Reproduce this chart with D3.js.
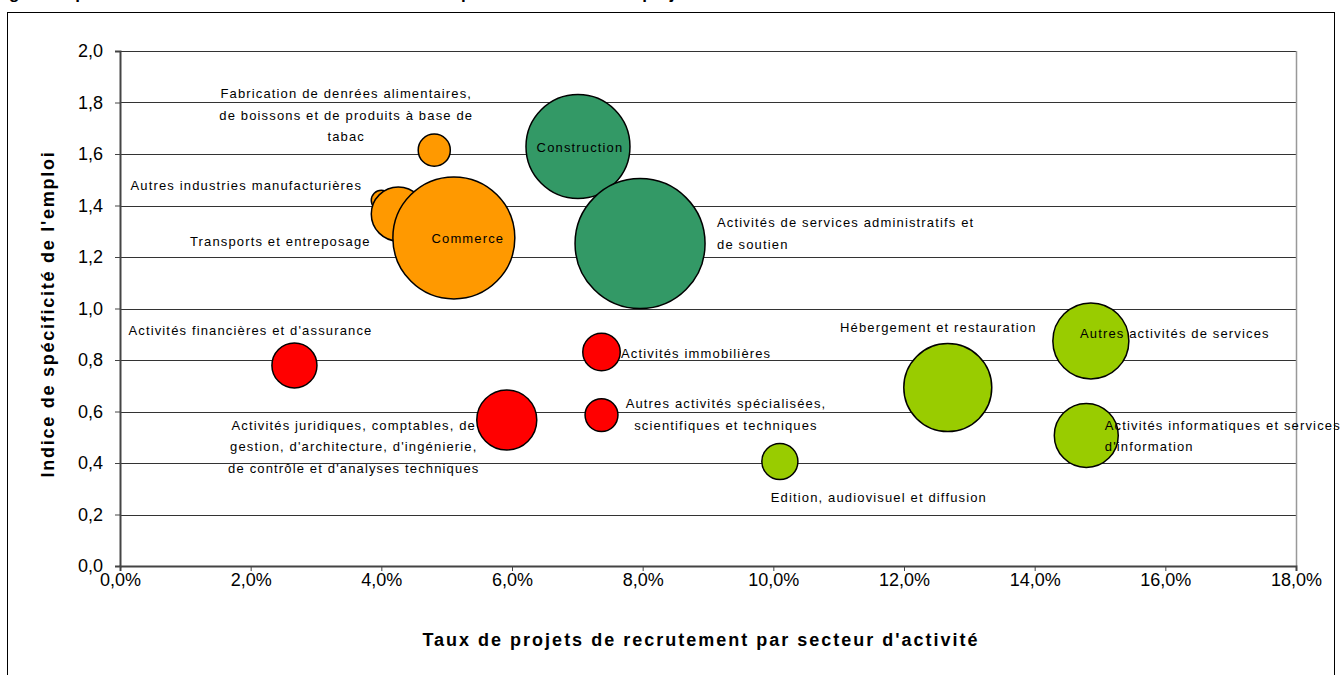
<!DOCTYPE html>
<html>
<head>
<meta charset="utf-8">
<script src="https://cdn.jsdelivr.net/npm/d3@7"></script>
<style>
  body { margin: 0; background: #fff; }
  svg { display: block; font-family: "Liberation Sans", Arial, sans-serif; }
</style>
</head>
<body>
<svg id="chart" width="1343" height="675"></svg>
<script>
// secteurs, taux de projets (x), indice de specificite (y), poids (taille bulle)
const sectors = [
  "Autres industries manufacturières",
  "Transports et entreposage",
  "Commerce",
  "Fabrication de denrées alimentaires, de boissons et de produits à base de tabac",
  "Construction",
  "Activités de services administratifs et de soutien",
  "Activités financières et d'assurance",
  "Activités juridiques, comptables, de gestion, d'architecture, d'ingénierie, de contrôle et d'analyses techniques",
  "Activités immobilières",
  "Autres activités spécialisées, scientifiques et techniques",
  "Edition, audiovisuel et diffusion",
  "Hébergement et restauration",
  "Autres activités de services",
  "Activités informatiques et services d'information"
];
const groups = ["ind", "ind", "ind", "ind", "btp", "btp", "tert", "tert", "tert", "tert", "serv", "serv", "serv", "serv"];
const tauxProjets = [0.0400, 0.0426, 0.0511, 0.0481, 0.0701, 0.0796, 0.0267, 0.0592, 0.0737, 0.0737, 0.1010, 0.1267, 0.1486, 0.1479];
const indiceSpec = [1.42, 1.367, 1.274, 1.615, 1.629, 1.252, 0.779, 0.567, 0.831, 0.586, 0.406, 0.693, 0.874, 0.507];
const poids = [2.4, 17.3, 88, 6.1, 64, 100, 12, 21.3, 8.3, 6.4, 7.7, 45.8, 34.2, 24.2];

const groupColors = { ind: "#FF9900", btp: "#339966", tert: "#FF0000", serv: "#99CC00" };

const xTicks = [0, 0.02, 0.04, 0.06, 0.08, 0.10, 0.12, 0.14, 0.16, 0.18];
const yTicks = [0, 0.2, 0.4, 0.6, 0.8, 1.0, 1.2, 1.4, 1.6, 1.8, 2.0];

// label lines and placement (offset from bubble centre)
const labelLines = [
  ["Autres industries manufacturières"],
  ["Transports et entreposage"],
  ["Commerce"],
  ["Fabrication de denrées alimentaires,", "de boissons et de produits à base de", "tabac"],
  ["Construction"],
  ["Activités de services administratifs et", "de soutien"],
  ["Activités financières et d'assurance"],
  ["Activités juridiques, comptables, de", "gestion, d'architecture, d'ingénierie,", "de contrôle et d'analyses techniques"],
  ["Activités immobilières"],
  ["Autres activités spécialisées,", "scientifiques et techniques"],
  ["Edition, audiovisuel et diffusion"],
  ["Hébergement et restauration"],
  ["Autres activités de services"],
  ["Activités informatiques et services", "d'information"]
];
const labelPos = [
  { dx: -135, dy: -15, anchor: "middle" },
  { dx: -118, dy: 27, anchor: "middle" },
  { dx: 14, dy: 0, anchor: "middle" },
  { dx: -88, dy: -57, anchor: "middle" },
  { dx: 2, dy: 0, anchor: "middle" },
  { dx: 77, dy: -21.5, anchor: "start" },
  { dx: -44, dy: -35.5, anchor: "middle" },
  { dx: -153, dy: 5, anchor: "middle" },
  { dx: 19.5, dy: 1, anchor: "start" },
  { dx: 124.5, dy: -12, anchor: "middle" },
  { dx: 99, dy: 35.5, anchor: "middle" },
  { dx: -9.5, dy: -60.5, anchor: "middle" },
  { dx: 84, dy: -8, anchor: "middle" },
  { dx: 18.5, dy: -10.5, anchor: "start" }
];

const data = sectors.map((s, i) => ({
  name: s, group: groups[i], x: tauxProjets[i], y: indiceSpec[i], size: poids[i],
  lines: labelLines[i], pos: labelPos[i]
}));

const svg = d3.select("#chart");
const plot = { left: 120, right: 1296, top: 51, bottom: 566 };

const x = d3.scaleLinear().domain([0, 0.18]).range([plot.left, plot.right]);
const y = d3.scaleLinear().domain([0, 2.0]).range([plot.bottom, plot.top]);
const r = d3.scaleSqrt().domain([0, 100]).range([0, 65]);

const fmtX = v => d3.format(".1%")(v).replace(".", ",");
const fmtY = v => d3.format(".1f")(v).replace(".", ",");

// titre (coupé en haut de l'image)
svg.append("text")
  .attr("x", -6).attr("y", -1)
  .attr("font-weight", "bold").attr("font-size", 17)
  .text("Figure 3 : positionnement des secteurs selon l'indice de spécificité et le taux de projets de recrutement");

// cadre du graphique
svg.append("rect")
  .attr("x", 7.5).attr("y", 12.5)
  .attr("width", 1327).attr("height", 700)
  .attr("fill", "none").attr("stroke", "#000").attr("stroke-width", 1);

// grille
svg.append("g")
  .selectAll("line")
  .data(yTicks.filter(d => d > 0))
  .join("line")
  .attr("x1", plot.left).attr("x2", plot.right)
  .attr("y1", d => Math.round(y(d)) + 0.5).attr("y2", d => Math.round(y(d)) + 0.5)
  .attr("stroke", "#333").attr("stroke-width", 1);

// bord droit de la zone de tracé
svg.append("line")
  .attr("x1", plot.right + 0.5).attr("x2", plot.right + 0.5)
  .attr("y1", plot.top).attr("y2", plot.bottom)
  .attr("stroke", "#999").attr("stroke-width", 1.5);

// axes
const xAxis = svg.append("g")
  .attr("transform", `translate(0,${plot.bottom})`)
  .call(d3.axisBottom(x).tickValues(xTicks).tickFormat(fmtX).tickSize(5).tickPadding(2));
const yAxis = svg.append("g")
  .attr("transform", `translate(${plot.left},0)`)
  .call(d3.axisLeft(y).tickValues(yTicks).tickFormat(fmtY).tickSize(5).tickPadding(12));

[xAxis, yAxis].forEach(g => {
  g.select(".domain").attr("stroke", "#444").attr("stroke-width", 2);
  g.selectAll(".tick line").attr("stroke", "#444");
  g.selectAll(".tick text")
    .attr("font-size", 18).attr("fill", "#000")
    .attr("font-family", "'Liberation Sans', Arial, sans-serif");
});

svg.append("text")
  .attr("x", 701).attr("y", 646)
  .attr("text-anchor", "middle")
  .attr("font-weight", "bold").attr("font-size", 18).attr("letter-spacing", 2)
  .text("Taux de projets de recrutement par secteur d'activité");

svg.append("text")
  .attr("transform", `translate(54,314) rotate(-90)`)
  .attr("text-anchor", "middle")
  .attr("font-weight", "bold").attr("font-size", 18).attr("letter-spacing", 1.75)
  .text("Indice de spécificité de l'emploi");

// bulles
svg.append("g")
  .selectAll("circle")
  .data(data)
  .join("circle")
  .attr("cx", d => x(d.x))
  .attr("cy", d => y(d.y))
  .attr("r", d => r(d.size))
  .attr("fill", d => groupColors[d.group])
  .attr("stroke", "#000").attr("stroke-width", 1.5);

// étiquettes
const labels = svg.append("g")
  .selectAll("text")
  .data(data)
  .join("text")
  .attr("font-size", 13)
  .attr("letter-spacing", 1.15)
  .attr("fill", "#000")
  .attr("text-anchor", d => d.pos.anchor)
  .attr("dominant-baseline", "central");

labels.selectAll("tspan")
  .data(d => d.lines.map((t, i) => ({ t, i, d })))
  .join("tspan")
  .attr("x", o => x(o.d.x) + o.d.pos.dx)
  .attr("y", o => y(o.d.y) + o.d.pos.dy + o.i * 21.5)
  .text(o => o.t);
</script>
</body>
</html>
